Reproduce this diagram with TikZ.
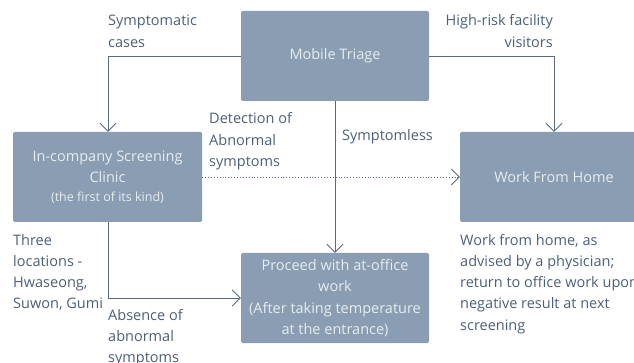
\documentclass[tikz,border=0pt]{standalone}
\usepackage{fontspec}
\setmainfont{Open Sans}
\usetikzlibrary{arrows.meta}
\definecolor{boxfill}{HTML}{8A9DB3}
\definecolor{boxtext}{HTML}{E6ECF2}
\definecolor{lbl}{HTML}{4D5F78}
\definecolor{lnc}{HTML}{5A6B80}
\tikzset{
  box/.style={draw=none,fill=boxfill,rounded corners=1.5pt,inner sep=0pt,text=boxtext,align=center,font=\fontsize{14.5}{21.3}\selectfont},
  lab/.style={inner sep=0pt,text=lbl,font=\fontsize{14.5}{21.3}\selectfont},
  conn/.style={draw=lnc,line width=0.9pt,-{Straight Barb[length=8pt,width=16pt,line width=0.9pt]}},
  dotconn/.style={draw=lnc,line width=0.9pt,dotted,-{Straight Barb[length=8pt,width=16pt,line width=0.9pt]}}
}
\begin{document}
\begin{tikzpicture}[x=1pt,y=-1pt]
\useasboundingbox (0,0) rectangle (634,363);
\begin{scope}
\clip (0,0) rectangle (634,363);
\node[box,minimum width=188pt,minimum height=90pt] (mt) at (335,56) {Mobile Triage};
\node[box,minimum width=189pt,minimum height=90pt] (ic) at (107.5,177) {In-company Screening\\Clinic\\[-3pt]{\fontsize{12.5}{15}\selectfont (the first of its kind)}};
\node[box,minimum width=188pt,minimum height=90pt] (wh) at (554,177) {Work From Home};
\node[box,minimum width=188pt,minimum height=90pt] (pr) at (335,298) {Proceed with at-office\\work\\(After taking temperature\\at the entrance)};
\end{scope}
\coordinate (c1) at (108,56);
\coordinate (c2) at (554,56);
\coordinate (c3) at (108,298);
\draw[conn] (mt.west) -- (c1) -- (c1 |- ic.north);
\draw[conn] (mt.east) -- (c2) -- (c2 |- wh.north);
\draw[conn] (mt.south) -- (pr.north);
\draw[dotconn] (ic.east) -- (wh.west);
\draw[conn] (c1 |- ic.south) -- (c3) -- (pr.west);
\node[lab,anchor=base west,align=left] (l1) at (108,47.3) {Symptomatic\\cases};
\node[lab,anchor=base east,align=right] (l2) at (553,47.3) {High-risk facility\\visitors};
\node[lab,anchor=base west,align=left] (l3) at (209,166.6) {Detection of\\Abnormal\\symptoms};
\node[lab,anchor=base west,align=left] (l4) at (342,141) {Symptomless};
\node[lab,anchor=base west,align=left] (l5) at (13,308.9) {Three\\locations -\\Hwaseong,\\Suwon, Gumi};
\node[lab,anchor=base west,align=left] (l6) at (108,362.6) {Absence of\\abnormal\\symptoms};
\node[lab,anchor=base west,align=left] (l7) at (460,330.2) {Work from home, as\\advised by a physician;\\return to office work upon\\negative result at next\\screening};
\end{tikzpicture}
\end{document}
